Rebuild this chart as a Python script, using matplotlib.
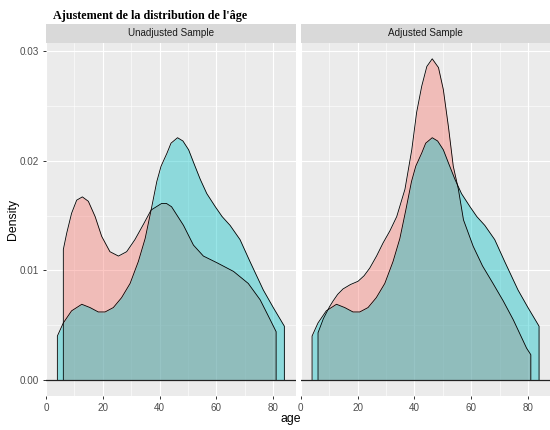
import matplotlib
matplotlib.use('Agg')
import matplotlib.pyplot as plt

# Densité de l'âge
# Population cible (même courbe dans les deux panneaux)
age_target = [4.0, 6.1, 9.0, 12.6, 15.5, 18.4, 20.8, 23.7, 26.6, 29.6, 32.5, 34.9, 37.0, 39.0,
              40.5, 42.6, 44.0, 46.3, 48.2, 50.2, 52.0, 54.3, 56.6, 59.6, 62.0, 64.8, 68.3,
              71.8, 76.5, 80.0, 83.9]
dens_target = [0.0040, 0.0052, 0.0063, 0.0069, 0.0066, 0.0062, 0.0062, 0.0066, 0.0075, 0.0088,
               0.0108, 0.0129, 0.0155, 0.0181, 0.0195, 0.0207, 0.0216, 0.0221, 0.0218, 0.0210,
               0.0198, 0.0183, 0.0170, 0.0158, 0.0149, 0.0141, 0.0128, 0.0108, 0.0082, 0.0066,
               0.0049]

# Échantillon non ajusté
age_sample = [6.1, 7.3, 9.0, 10.8, 12.8, 14.9, 17.3, 19.6, 22.5, 25.5, 28.4, 31.3, 34.3, 37.0,
              40.7, 42.4, 44.2, 48.4, 51.9, 55.4, 60.1, 66.0, 71.2, 75.4, 78.9, 81.0]
dens_unadj = [0.0119, 0.0134, 0.0152, 0.0164, 0.0167, 0.0163, 0.0149, 0.0131, 0.0117, 0.0113,
              0.0117, 0.0128, 0.0142, 0.0155, 0.0161, 0.0161, 0.0158, 0.0141, 0.0123, 0.0113,
              0.0107, 0.0099, 0.0088, 0.0073, 0.0055, 0.0044]

# Échantillon ajusté
age_adj = [6.1, 8.0, 10.2, 11.4, 13.0, 14.9, 17.5, 20.2, 22.3, 24.3, 26.7, 29.0, 31.4, 33.8,
           36.7, 39.1, 40.8, 42.6, 44.4, 46.3, 48.5, 50.2, 52.0, 53.7, 55.5, 57.3, 60.7, 64.0,
           67.7, 71.3, 74.8, 79.5, 81.0]
dens_adj = [0.0043, 0.0056, 0.0067, 0.0072, 0.0078, 0.0083, 0.0087, 0.0090, 0.0095, 0.0102,
            0.0113, 0.0125, 0.0136, 0.0149, 0.0174, 0.0210, 0.0244, 0.0268, 0.0286, 0.0293,
            0.0285, 0.0265, 0.0231, 0.0195, 0.0174, 0.0146, 0.0122, 0.0104, 0.0088, 0.0072,
            0.0055, 0.0029, 0.0023]

panels = ['Unadjusted Sample', 'Adjusted Sample']
x_ticks = [0, 20, 40, 60, 80]
y_ticks = [0.00, 0.01, 0.02, 0.03]
y_ticklabels = ['0.00', '0.01', '0.02', '0.03']

RED = '#F8766D'
CYAN = '#00BFC4'

W, H = 550, 430
fig = plt.figure(figsize=(W / 100, H / 100), dpi=100)
plt.rcParams['font.family'] = ['Liberation Sans', 'DejaVu Sans']


def px_axes(x0, y0, x1, y1):
    # coordonnées en pixels (origine en haut à gauche)
    return fig.add_axes([x0 / W, 1 - y1 / H, (x1 - x0) / W, (y1 - y0) / H])


def density(ax, x, y, color):
    ax.fill_between(x, 0, y, color=color, alpha=0.4, linewidth=0, zorder=2)
    ax.plot([x[0]] + x + [x[-1]], [0] + y + [0], color='black', lw=0.6, zorder=3)


series = [
    [(age_sample, dens_unadj), (age_target, dens_target)],
    [(age_adj, dens_adj), (age_target, dens_target)],
]

lefts = [46, 300.7]
for i, (left, title) in enumerate(zip(lefts, panels)):
    ax = px_axes(left, 42.7, left + 250, 396)
    ax.set_facecolor('#EBEBEB')
    for s in ax.spines.values():
        s.set_visible(False)
    (xs, ys), (xt, yt) = series[i]
    density(ax, xs, ys, RED)
    density(ax, xt, yt, CYAN)
    ax.axhline(0, color='#222222', lw=0.9, zorder=4)

    ax.set_xlim(0, 88)
    ax.set_ylim(-0.00147, 0.03077)
    ax.set_xticks(x_ticks)
    ax.set_xticks([10, 30, 50, 70], minor=True)
    ax.set_yticks(y_ticks)
    ax.set_yticks([0.005, 0.015, 0.025], minor=True)
    ax.grid(which='major', color='white', lw=0.85, zorder=0)
    ax.grid(which='minor', color='white', lw=0.4, zorder=0)
    ax.set_axisbelow(True)
    ax.tick_params(which='major', length=2, width=0.7, color='#333333',
                   labelsize=7.1, labelcolor='#4D4D4D', pad=3)
    ax.tick_params(which='minor', length=0)
    if i == 0:
        ax.set_yticklabels(y_ticklabels)
    else:
        ax.tick_params(axis='y', which='major', length=0, labelleft=False)

    strip = px_axes(left, 24, left + 250, 42.7)
    strip.set_facecolor('#D9D9D9')
    strip.set_xticks([])
    strip.set_yticks([])
    for s in strip.spines.values():
        s.set_visible(False)
    strip.text(0.5, 0.5, title, ha='center', va='center', fontsize=7.1, color='#1A1A1A',
               transform=strip.transAxes)

fig.text(290.5 / W, 1 - 419 / H, 'age', ha='center', va='center', fontsize=8.8, color='black')
fig.text(12.5 / W, 1 - 219 / H, 'Density', ha='center', va='center', rotation=90,
         fontsize=8.8, color='black')
fig.text(52.7 / W, 1 - 18.5 / H, "Ajustement de la distribution de l'âge", ha='left',
         va='baseline', fontsize=8.7, fontweight='bold', family=['Liberation Serif', 'DejaVu Serif'])

fig.savefig('out.png', dpi=100)
